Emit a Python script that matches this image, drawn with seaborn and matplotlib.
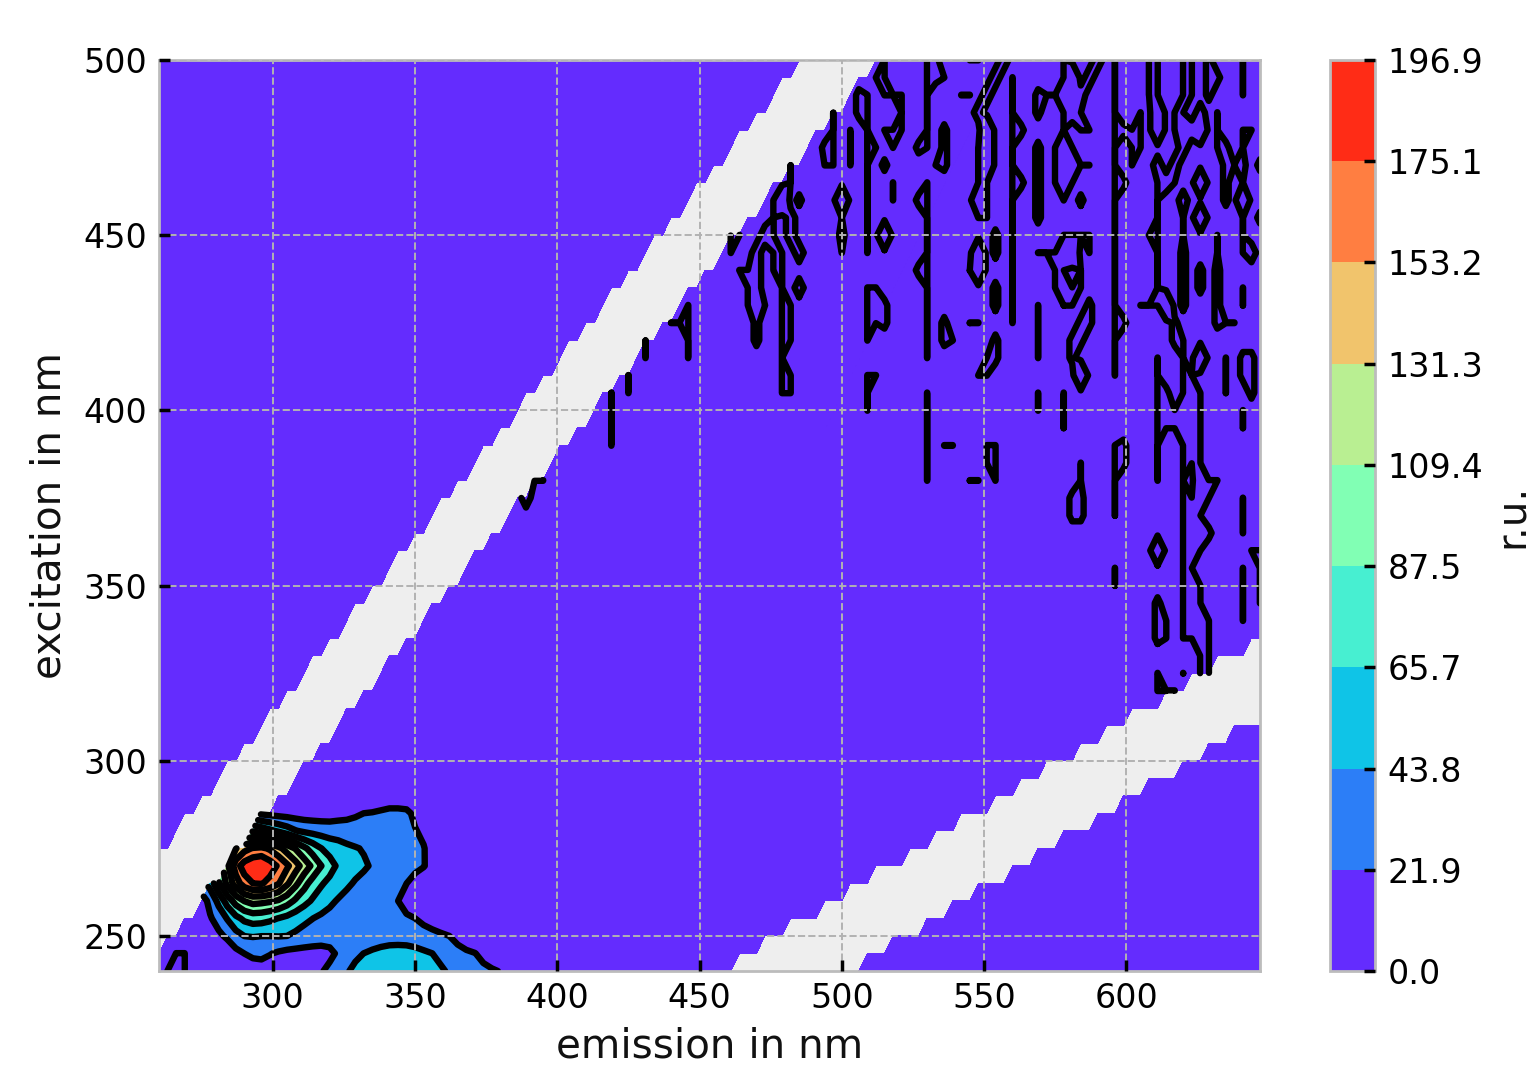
import numpy as np
import matplotlib
matplotlib.use("Agg")
import matplotlib.pyplot as plt
import seaborn as sns

# ---- data -----------------------------------------------------------
emission = np.arange(260, 648, 3)
excitation = np.arange(240, 505, 5)
levels = [0.0, 21.9, 43.8, 65.7, 87.5, 109.4, 131.3, 153.2, 175.1, 196.9]
x_ticks = [300, 350, 400, 450, 500, 550, 600]
y_ticks = [250, 300, 350, 400, 450, 500]
background = 1.0

# main fluorophore: rows by excitation, columns from 272 nm in 3 nm steps
peak_start_em = 272
peak_rows = {
    240: [1,1,1,2,3,5,8,11,12,11,9,8,7,7,8,20,27,35,42,48,55,60,63,64,64,62,60,57,52,47,41,36,32,28,26,24,21,15],
    245: [1,1,2,3,9,16,22,26,27,23,19,16,15,14,13,13,17,25,33,40,44,48,52,55,55,54,51,47,44,38,33,28,25,22.5,17,10,5,2],
    250: [3,7,12,18,25,36,44,45,44,44,44.5,43.8,40,37,35,33,31,30,29,29,29,29,30,31,32,32,31,30,28,25,22,16,10,6,3,2,1,1],
    255: [5,12,20,30,45,60,70,75,74,70,65,60,54,48,44,40,37,34,32,30,29,28,27,26,25,24,22,17,12,8,5,3,2,1,1,1,1,1],
    260: [0,12,28,50,75,96,110,117,115,112,107,97,84,73,63,55,48,42,38,35,32,30,27,24.5,22,16,10,6,3,1.5,1,1,1,1,1,1,1,1],
    265: [0,0,52,85,115,142,165,175,177,168,155,135,115,95,79,68,60,54,47,42,39,36,33,30,26,22,15,9,5,3,1.5,1,1,1,1,1,1,1],
    270: [0,0,0,0,125,165,185,194,196.9,186,172,157,140,122,105,88,74,62,55,50,46,42,39,36,33,30,27,23,15,8,4,2,1,1,1,1,1,1],
    275: [0,0,0,0,0,130,146,155,158,150,138,122,108,92,78,66,58,53,48,45,42.5,40,38,36,34,31,28,23,14,7,3,1,1,1,1,1,1,1],
    280: [0,0,0,0,0,0,0,85,78,70,62,54,45,40,37,35,33,33,32,32,32,31,31,30,30,28,23,18,10,5,2,1,1,1,1,1,1,1],
    285: [0,0,0,0,0,0,0,0,18,16,14,13,12,11,11,11,12,14,16,19,22,23,25,27,27,26,18,10,4,2,1,1,1,1,1,1,1,1],
    290: [1,1,1,1,1,1,1,1,1,1,1,1,1,1,1,1,1,1,1,1,1,5,7,9,9,8,4,2,1,1,1,1,1,1,1,1,1,1],
}

# noise around zero: (emission, excitation from, excitation to, value)
S, C, M, D = -0.02, -1.2, -0.5, -6.0
noise = [
    (266,245,240,S),(269,245,240,S),(263,240,240,S),
    (419,405,390,S),(425,410,405,S),(431,420,415,S),(446,430,415,S),(443,425,425,S),(440,425,425,S),
    (392,380,380,S),(395,380,380,S),(389,375,375,C),
    (464,450,450,S),(461,450,445,S),
    (464,440,440,S),(467,440,430,S),(470,445,435,C),(473,450,450,C),(470,430,420,M),(473,430,430,S),
    (482,470,465,S),(479,460,460,D),(476,460,455,S),(485,460,460,M),(482,455,450,C),(485,445,445,C),
    (479,445,420,S),(476,450,440,S),(485,435,435,C),(482,430,420,S),(479,415,405,S),(482,410,405,S),
    (515,500,495,S),(512,495,495,S),(521,490,490,S),(518,490,490,S),(515,490,490,S),(509,490,490,S),(506,490,485,M),
    (509,490,445,S),(518,480,475,S),(515,480,480,S),(515,470,470,M),(512,475,475,S),
    (497,485,470,S),(494,475,475,M),(494,470,470,S),(503,480,470,S),
    (500,460,460,D),(500,455,445,S),(500,450,450,M),(515,450,450,D),(518,465,460,S),(521,485,480,S),
    (530,500,475,S),(527,475,475,M),(530,465,415,S),(527,460,460,M),(527,440,440,M),
    (533,500,495,M),(536,495,495,S),(536,480,470,M),(533,470,470,S),
    (542,490,490,S),(545,490,490,S),(545,500,500,S),(548,500,500,S),
    (509,435,420,S),(512,435,425,S),(515,430,425,M),(509,410,400,S),(512,410,410,S),
    (530,405,380,S),(536,425,420,M),(539,420,420,S),(536,390,390,S),(539,390,390,S),
    (545,425,425,S),(548,425,425,S),(548,410,410,S),(551,410,410,S),(545,440,440,S),(548,440,440,S),
    (550,390,385,S),(545,380,380,S),(548,380,380,S),
    (557,500,500,C),(554,495,495,C),(551,490,490,C),(548,485,485,C),
    (551,480,470,D),(548,475,455,S),(551,465,455,S),(548,460,460,D),
    (548,445,440,D),(554,450,445,M),
    (560,495,425,S),(563,480,480,M),(563,465,465,M),
    (569,490,485,M),(572,490,490,S),(575,490,490,S),(575,475,465,S),(569,475,455,M),
    (578,500,460,S),(581,495,490,D),(590,500,500,C),(587,495,495,C),(584,490,490,C),(581,485,485,C),
    (584,485,480,S),(587,480,480,S),(581,475,465,S),(584,460,460,M),(584,470,470,S),(587,470,470,S),
    (581,450,450,S),(584,450,450,S),(587,450,445,S),(581,445,445,D),(578,450,435,S),(584,440,435,S),
    (569,445,445,S),(572,445,445,S),(575,445,435,S),
    (596,500,410,S),(599,480,480,M),(599,465,465,M),(602,470,470,S),
    (608,500,490,S),(611,500,490,S),(605,485,475,S),(602,480,475,S),(617,485,480,S),(611,485,480,D),
    (611,470,470,C),(614,465,465,C),(617,470,470,C),(620,475,475,C),(623,480,480,C),(626,485,485,C),
    (620,500,490,S),(623,500,490,S),(629,500,490,M),(632,495,495,M),(626,480,480,D),(620,485,480,S),(632,485,475,S),
    (626,465,465,D),(635,475,465,M),(611,465,440,S),(608,450,450,S),(617,465,465,S),(620,460,460,C),
    (626,455,455,D),(620,455,450,S),(635,460,460,M),(620,445,445,M),(626,440,435,M),(632,450,430,S),
    (641,500,490,S),(641,480,445,S),(644,480,480,S),(641,470,470,M),(638,470,470,S),(641,460,460,D),(644,445,445,C),
    (647,470,470,M),(647,455,455,M),
    (554,435,430,M),(554,420,415,M),(551,415,415,S),(569,430,415,S),(575,440,435,S),(578,430,430,S),(581,435,430,S),
    (587,430,425,M),(584,425,420,M),(581,420,415,M),(584,410,410,D),(569,405,400,S),(578,405,395,S),
    (599,425,425,M),(605,430,430,S),(608,430,430,S),(614,430,430,D),(611,435,430,S),(617,425,420,M),
    (611,415,380,S),(614,405,400,M),(620,440,430,M),(620,420,375,S),(626,415,415,D),(632,440,425,M),
    (635,425,425,S),(638,425,425,S),(623,410,385,S),(626,405,385,S),(626,380,380,D),(629,380,375,S),(632,380,380,S),
    (614,395,395,S),(617,400,395,S),(635,415,405,S),(641,415,410,M),(644,415,405,M),(641,435,430,S),(641,400,395,S),
    (555,390,380,S),(584,385,380,S),(596,390,370,S),(599,390,385,M),(596,355,350,S),
    (581,375,370,M),(584,375,370,M),(620,375,335,S),(623,375,335,S),(626,375,360,S),(629,365,365,M),
    (626,350,325,S),(629,340,325,S),(641,375,365,S),(641,355,340,S),(644,360,360,S),(647,360,345,S),
    (611,360,360,D),(611,345,335,M),(614,340,335,S),(611,325,320,S),(620,325,325,S),(617,320,320,S),(614,320,320,S),
]

# removed scatter bands (offsets from excitation in nm)
band1_below = 12
band1_above_low = 13
band1_above = 11
band2_below = 19
band2_above = 18

# ---- grid -----------------------------------------------------------
Z = np.full((len(excitation), len(emission)), background)
i0 = np.searchsorted(emission, peak_start_em)
for ex, row in peak_rows.items():
    j = np.searchsorted(excitation, ex)
    Z[j, i0:i0 + len(row)] = row
for em, hi, lo, val in noise:
    i = np.argmin(np.abs(emission - em))
    j0, j1 = np.searchsorted(excitation, lo), np.searchsorted(excitation, hi)
    Z[j0:j1 + 1, i] = np.minimum(Z[j0:j1 + 1, i], val)

EM, EX = np.meshgrid(emission, excitation)
upper1 = np.where(EX <= 270, band1_above_low, band1_above)
mask = ((EM > EX - band1_below) & (EM < EX + upper1)) | \
       ((EM > 2 * EX - band2_below) & (EM < 2 * EX + band2_above))
Zm = np.ma.array(Z, mask=mask)
Zf = np.ma.array(np.clip(Z, 0, None), mask=mask)

# ---- figure ---------------------------------------------------------
sns.set_theme(style="white", rc={
    "axes.facecolor": "#eeeeee", "axes.edgecolor": "#bcbcbc", "axes.linewidth": 1.0,
    "axes.axisbelow": False, "grid.color": "#b2b2b2", "grid.linestyle": "--", "grid.linewidth": 0.7,
    "xtick.direction": "in", "ytick.direction": "in", "xtick.major.size": 4, "ytick.major.size": 4,
    "xtick.bottom": True, "ytick.left": True,
    "xtick.color": "black", "ytick.color": "black", "text.color": "#111111",
    "axes.labelcolor": "#111111",
})
plt.rcParams["font.family"] = ["DejaVu Sans"]

W, H = 1536, 1065
fig = plt.figure(figsize=(W / 200, H / 200), dpi=200, facecolor="white")
ax = fig.add_axes([159 / W, 1 - 971 / H, (1260 - 159) / W, (971 - 60) / H])
cax = fig.add_axes([1330 / W, 1 - 971 / H, (1375 - 1330) / W, (971 - 60) / H])

cmap = sns.color_palette("rainbow", as_cmap=True)
cf = ax.contourf(emission, excitation, Zf, levels=levels, cmap=cmap)
cs = ax.contour(emission, excitation, Zm, levels=levels[:-1], colors="black", linewidths=2.3)
cs.set_joinstyle("round")
cs.set_capstyle("round")

ax.set_xlim(260, 647)
ax.set_ylim(240, 500)
ax.set_xticks(x_ticks)
ax.set_yticks(y_ticks)
ax.grid(True)
ax.tick_params(axis="y", labelsize=12, pad=4.3)
ax.tick_params(axis="x", labelsize=12, pad=4)
ax.set_xlabel("emission in nm", fontsize=14.6, labelpad=4)
ax.set_ylabel("excitation in nm", fontsize=14.6, labelpad=5)

cb = fig.colorbar(cf, cax=cax, ticks=levels, format="%.1f")
cb.ax.tick_params(labelsize=12, direction="in", length=4, pad=4.5, left=False, right=True)
cb.outline.set_edgecolor("#bcbcbc")
cb.outline.set_linewidth(1.0)
cb.set_label("r.u.", fontsize=14.6, labelpad=3)

fig.savefig("out.png", dpi=200, facecolor="white")
